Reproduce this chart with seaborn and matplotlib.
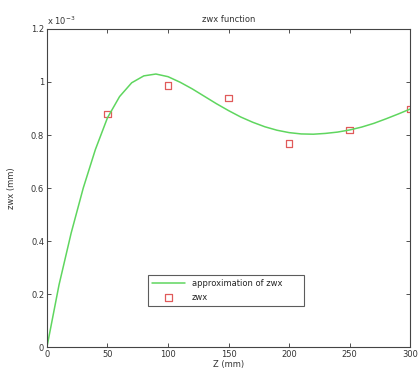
import numpy as np
import pandas as pd
import matplotlib
matplotlib.use("Agg")
import matplotlib.pyplot as plt
import seaborn as sns

# Measured zwx samples (values in units of 1e-3 mm)
z_meas = [50, 100, 150, 200, 250, 300]
zwx_meas = [0.88, 0.987, 0.94, 0.768, 0.819, 0.898]

# Approximation curve of zwx, sampled every 10 mm
z_fit = [0, 10, 20, 30, 40, 50, 60, 70, 80, 90, 100, 110, 120, 130, 140, 150,
         160, 170, 180, 190, 200, 210, 220, 230, 240, 250, 260, 270, 280, 290, 300]
zwx_fit = [0.0, 0.235, 0.43, 0.60, 0.745, 0.865, 0.945, 0.997, 1.023, 1.030, 1.020,
           0.999, 0.974, 0.946, 0.918, 0.892, 0.868, 0.848, 0.831, 0.818, 0.809,
           0.804, 0.803, 0.806, 0.811, 0.819, 0.830, 0.844, 0.861, 0.879, 0.898]

x_ticks = [0, 50, 100, 150, 200, 250, 300]
y_ticks = [0, 0.2, 0.4, 0.6, 0.8, 1, 1.2]
y_tick_labels = ["0", "0.2", "0.4", "0.6", "0.8", "1", "1.2"]

sns.set_style("white")
plt.rcParams["font.family"] = ["DejaVu Sans"]

fit_df = pd.DataFrame({"z": z_fit, "zwx": zwx_fit})
meas_df = pd.DataFrame({"z": z_meas, "zwx": zwx_meas})

fig = plt.figure(figsize=(4.19, 3.81), dpi=100)
ax = fig.add_axes([0.112, 0.089, 0.867, 0.835])

sns.lineplot(data=fit_df, x="z", y="zwx", ax=ax, color="#5fd65f", linewidth=1.1,
             label="approximation of zwx")
sns.scatterplot(data=meas_df, x="z", y="zwx", ax=ax, marker="s", s=22,
                facecolor="none", edgecolor="#e05a5a", linewidth=0.9, label="zwx")

ax.set_xlim(0, 300)
ax.set_ylim(0, 1.2)
ax.set_xticks(x_ticks)
ax.set_xticklabels([str(t) for t in x_ticks])
ax.set_yticks(y_ticks)
ax.set_yticklabels(y_tick_labels)
ax.tick_params(direction="in", length=3, width=0.6, labelsize=6, colors="#333333",
               top=True, right=True, bottom=True, left=True, pad=2)
for sp in ax.spines.values():
    sp.set_visible(True)
    sp.set_color("#444444")
    sp.set_linewidth(0.8)

ax.set_xlabel("Z (mm)", fontsize=6, color="#333333", labelpad=1)
ax.set_ylabel("zwx (mm)", fontsize=6, color="#333333", labelpad=11)
ax.set_title("zwx function", fontsize=6, color="#333333", pad=5)
ax.text(0.0, 1.005, r"x 10$^{-3}$", transform=ax.transAxes, fontsize=6,
        color="#333333", ha="left", va="bottom")

leg = ax.legend(loc="lower left", bbox_to_anchor=(0.278, 0.13, 0.43, 0.14),
                mode="expand", fontsize=6, frameon=True, fancybox=False,
                borderpad=0.5, handlelength=4.0, labelspacing=0.5, borderaxespad=0)
leg.get_frame().set_edgecolor("#333333")
leg.get_frame().set_linewidth(0.8)

fig.savefig("out.png", dpi=100, facecolor="white")
